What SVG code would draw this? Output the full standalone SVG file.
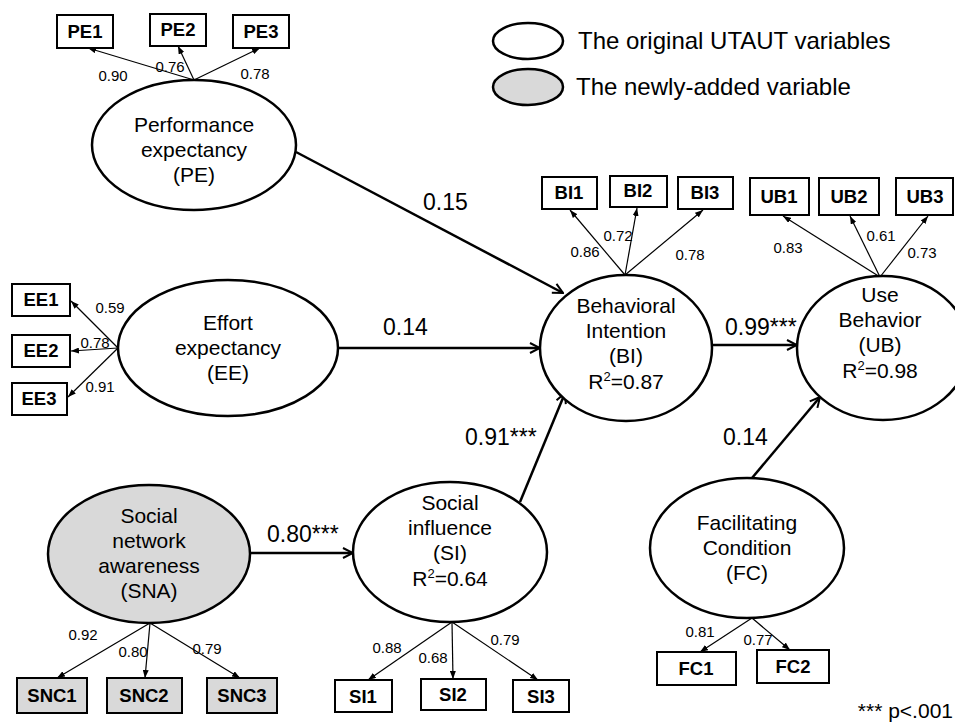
<svg xmlns="http://www.w3.org/2000/svg" width="955" height="724" viewBox="0 0 955 724">
<defs>
<marker id="open" viewBox="0 0 12 12" refX="11" refY="6" markerWidth="12" markerHeight="12" markerUnits="userSpaceOnUse" orient="auto">
<path d="M1,1 L11,6 L1,11" fill="none" stroke="#000" stroke-width="2"/>
</marker>
<marker id="tri" viewBox="0 0 8 6" refX="8" refY="3" markerWidth="8" markerHeight="6" markerUnits="userSpaceOnUse" orient="auto">
<path d="M0,0 L8,3 L0,6 z" fill="#000"/>
</marker>
</defs>
<style>
text{font-family:"Liberation Sans",Arial,sans-serif;fill:#000}
.lv{fill:#fff;stroke:#000;stroke-width:2.5}
.lvg{fill:#d9d9d9;stroke:#000;stroke-width:2.5}
.box{fill:#fff;stroke:#000;stroke-width:2}
.boxg{fill:#d9d9d9;stroke:#000;stroke-width:2}
.nt{font-size:21px;text-anchor:middle}
.bt{font-size:18.5px;font-weight:bold;text-anchor:middle}
.ld{font-size:15px;text-anchor:middle}
.el{font-size:23px}
.path{stroke:#000;stroke-width:2.5;fill:none;marker-end:url(#open)}
.load{stroke:#000;stroke-width:1.2;fill:none;marker-end:url(#tri)}
.leg{font-size:24px}
</style>
<rect width="955" height="724" fill="#fff"/>

<g id="legend">
<ellipse class="lv" cx="528" cy="41" rx="35" ry="18" stroke-width="2"/>
<text class="leg" x="578" y="49">The original UTAUT variables</text>
<ellipse class="lvg" cx="528" cy="87" rx="35" ry="18" stroke-width="2"/>
<text class="leg" x="576" y="95">The newly-added variable</text>
</g>

<g id="connectors">
<line class="path" x1="296" y1="152" x2="563" y2="293"/>
<line class="path" x1="338" y1="348" x2="540" y2="348"/>
<line class="path" x1="712" y1="345" x2="797" y2="345"/>
<line class="path" x1="250" y1="553" x2="353" y2="553"/>
<line class="path" x1="520" y1="502" x2="565" y2="393"/>
<line class="path" x1="752" y1="478" x2="820" y2="397"/>
<text class="el" x="423" y="210">0.15</text>
<text class="el" x="383" y="335">0.14</text>
<text class="el" x="725" y="335">0.99***</text>
<text class="el" x="465" y="445">0.91***</text>
<text class="el" x="267" y="542">0.80***</text>
<text class="el" x="723" y="445">0.14</text>

<line class="load" x1="194" y1="80" x2="88" y2="48"/>
<line class="load" x1="194" y1="80" x2="178" y2="46"/>
<line class="load" x1="194" y1="80" x2="260" y2="48"/>
<text class="ld" x="113" y="81">0.90</text>
<text class="ld" x="170" y="72">0.76</text>
<text class="ld" x="255" y="79">0.78</text>

<line class="load" x1="118" y1="348" x2="71" y2="301"/>
<line class="load" x1="118" y1="348" x2="71" y2="351"/>
<line class="load" x1="118" y1="348" x2="68" y2="397"/>
<text class="ld" x="110" y="313">0.59</text>
<text class="ld" x="95" y="348">0.78</text>
<text class="ld" x="100" y="392">0.91</text>

<line class="load" x1="625" y1="275" x2="570" y2="210"/>
<line class="load" x1="625" y1="275" x2="637" y2="208"/>
<line class="load" x1="625" y1="275" x2="703" y2="210"/>
<text class="ld" x="585" y="257">0.86</text>
<text class="ld" x="618" y="241">0.72</text>
<text class="ld" x="690" y="260">0.78</text>

<line class="load" x1="880" y1="277" x2="783" y2="216"/>
<line class="load" x1="880" y1="277" x2="850" y2="216"/>
<line class="load" x1="880" y1="277" x2="928" y2="216"/>
<text class="ld" x="788" y="253">0.83</text>
<text class="ld" x="881" y="241">0.61</text>
<text class="ld" x="922" y="258">0.73</text>

<line class="load" x1="150" y1="623" x2="57" y2="678"/>
<line class="load" x1="150" y1="623" x2="145" y2="678"/>
<line class="load" x1="150" y1="623" x2="240" y2="678"/>
<text class="ld" x="83" y="640">0.92</text>
<text class="ld" x="133" y="657">0.80</text>
<text class="ld" x="207" y="654">0.79</text>

<line class="load" x1="452" y1="622" x2="368" y2="680"/>
<line class="load" x1="452" y1="622" x2="453" y2="679"/>
<line class="load" x1="452" y1="622" x2="538" y2="680"/>
<text class="ld" x="387" y="653">0.88</text>
<text class="ld" x="433" y="663">0.68</text>
<text class="ld" x="505" y="645">0.79</text>

<line class="load" x1="752" y1="618" x2="700" y2="652"/>
<line class="load" x1="752" y1="618" x2="790" y2="650"/>
<text class="ld" x="700" y="637">0.81</text>
<text class="ld" x="758" y="645">0.77</text>
</g>

<g id="PE">
<ellipse class="lv" cx="194" cy="145" rx="102" ry="65"/>
<text class="nt" x="194" y="132">Performance</text>
<text class="nt" x="194" y="157">expectancy</text>
<text class="nt" x="194" y="182">(PE)</text>
</g>
<g id="PE1"><rect class="box" x="57" y="15" width="56" height="33"/><text class="bt" x="85" y="38">PE1</text></g>
<g id="PE2"><rect class="box" x="150" y="14" width="56" height="32"/><text class="bt" x="178" y="36">PE2</text></g>
<g id="PE3"><rect class="box" x="233" y="15" width="56" height="33"/><text class="bt" x="261" y="38">PE3</text></g>

<g id="EE">
<ellipse class="lv" cx="228" cy="348" rx="110" ry="68"/>
<text class="nt" x="228" y="330">Effort</text>
<text class="nt" x="228" y="355">expectancy</text>
<text class="nt" x="228" y="380">(EE)</text>
</g>
<g id="EE1"><rect class="box" x="12" y="284" width="58" height="32"/><text class="bt" x="41" y="306">EE1</text></g>
<g id="EE2"><rect class="box" x="12" y="335" width="58" height="32"/><text class="bt" x="41" y="357">EE2</text></g>
<g id="EE3"><rect class="box" x="12" y="383" width="55" height="32"/><text class="bt" x="39" y="405">EE3</text></g>

<g id="BI">
<ellipse class="lv" cx="626" cy="348" rx="86" ry="73"/>
<text class="nt" x="626" y="313">Behavioral</text>
<text class="nt" x="626" y="338">Intention</text>
<text class="nt" x="626" y="363">(BI)</text>
<text class="nt" x="626" y="389">R<tspan font-size="13" dy="-8">2</tspan><tspan dy="8">=0.87</tspan></text>
</g>
<g id="BI1"><rect class="box" x="542" y="177" width="55" height="32"/><text class="bt" x="569" y="199">BI1</text></g>
<g id="BI2"><rect class="box" x="610" y="176" width="57" height="31"/><text class="bt" x="638" y="197">BI2</text></g>
<g id="BI3"><rect class="box" x="678" y="177" width="55" height="32"/><text class="bt" x="705" y="199">BI3</text></g>

<g id="UB">
<ellipse class="lv" cx="883" cy="348" rx="86" ry="72"/>
<text class="nt" x="880" y="302">Use</text>
<text class="nt" x="880" y="327">Behavior</text>
<text class="nt" x="880" y="352">(UB)</text>
<text class="nt" x="880" y="378">R<tspan font-size="13" dy="-8">2</tspan><tspan dy="8">=0.98</tspan></text>
</g>
<g id="UB1"><rect class="box" x="750" y="178" width="59" height="37"/><text class="bt" x="779" y="203">UB1</text></g>
<g id="UB2"><rect class="box" x="819" y="178" width="60" height="37"/><text class="bt" x="849" y="203">UB2</text></g>
<g id="UB3"><rect class="box" x="896" y="178" width="57" height="37"/><text class="bt" x="925" y="203">UB3</text></g>

<g id="SNA">
<ellipse class="lvg" cx="149" cy="554" rx="101" ry="69"/>
<text class="nt" x="149" y="523">Social</text>
<text class="nt" x="149" y="548">network</text>
<text class="nt" x="149" y="573">awareness</text>
<text class="nt" x="149" y="598">(SNA)</text>
</g>
<g id="SNC1"><rect class="boxg" x="17" y="678" width="70" height="35"/><text class="bt" x="52" y="702">SNC1</text></g>
<g id="SNC2"><rect class="boxg" x="107" y="678" width="75" height="35"/><text class="bt" x="144" y="702">SNC2</text></g>
<g id="SNC3"><rect class="boxg" x="207" y="678" width="70" height="35"/><text class="bt" x="242" y="702">SNC3</text></g>

<g id="SI">
<ellipse class="lv" cx="450" cy="552" rx="97" ry="70"/>
<text class="nt" x="450" y="510">Social</text>
<text class="nt" x="450" y="535">influence</text>
<text class="nt" x="450" y="560">(SI)</text>
<text class="nt" x="450" y="586">R<tspan font-size="13" dy="-8">2</tspan><tspan dy="8">=0.64</tspan></text>
</g>
<g id="SI1"><rect class="box" x="335" y="680" width="57" height="32"/><text class="bt" x="363" y="703">SI1</text></g>
<g id="SI2"><rect class="box" x="421" y="679" width="65" height="31"/><text class="bt" x="453" y="701">SI2</text></g>
<g id="SI3"><rect class="box" x="513" y="680" width="56" height="32"/><text class="bt" x="541" y="703">SI3</text></g>

<g id="FC">
<ellipse class="lv" cx="747" cy="548" rx="97" ry="70"/>
<text class="nt" x="747" y="530">Facilitating</text>
<text class="nt" x="747" y="555">Condition</text>
<text class="nt" x="747" y="580">(FC)</text>
</g>
<g id="FC1"><rect class="box" x="657" y="652" width="79" height="33"/><text class="bt" x="696" y="675">FC1</text></g>
<g id="FC2"><rect class="box" x="757" y="650" width="72" height="33"/><text class="bt" x="793" y="673">FC2</text></g>

<text x="953" y="718" font-size="21" text-anchor="end">*** p&lt;.001</text>
</svg>
